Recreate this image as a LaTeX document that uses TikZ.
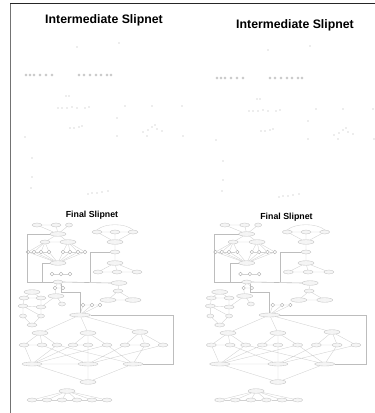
\documentclass[tikz,border=0pt]{standalone}
\usepackage{fontspec}
\setmainfont{Liberation Sans}
\usetikzlibrary{shapes.geometric}
\tikzset{
 ttl/.style={font=\bfseries\fontsize{12.3}{14}\selectfont, inner sep=0},
 fttl/.style={font=\bfseries\fontsize{8.8}{10}\selectfont, inner sep=0},
 ov/.style={ellipse, draw=black!24, line width=0.35pt, fill=black!4, minimum width=10pt, minimum height=4pt, inner sep=0},
 wov/.style={ov, minimum width=16pt, minimum height=4.5pt},
 sov/.style={ov, minimum width=7pt},
 cr/.style={circle, draw=black!35, line width=0.35pt, fill=white, minimum size=3.6pt, inner sep=0},
 ln/.style={draw=black!18, line width=0.35pt},
 bk/.style={draw=black!26, line width=0.6pt},
 mk/.style={draw=black!30, line width=0.3pt},
 dt/.style={fill=black!30},
}
\newcommand\internet{%
 \foreach \x in {26,30,34,40,46,52,79,84,90,96,101,107,111} \draw[mk] (\x,75) circle (1.1);
 \foreach \x/\y in {77/47,119/43,66/96,69/96,58/108,62/108,67/108,72/107,77/108,85/108,89/107,
   125/106,152/106,182/106,117/118,70/128,74/128,79/127,82/126,
   143/132,148/130,152/127,155/125,157/129,162/131,147/136,
   25/137,117/136,183/136,32/158,32/177,31/188,
   88/194,92/193,97/193,102/192,108/191}
   \fill[dt] (\x,\y) circle (0.55);
}
\newcommand\finalnet{%
 \node[ov] (t1) at (37,225) {};
 \node[ov] (t2) at (56,225) {};
 \node[sov] (t3) at (69,225) {};
 \node[wov] (lc) at (58,234) {};
 \node[ov] (a1) at (45,242) {};
 \node[wov] (a2) at (68,242) {};
 \foreach \i/\x in {1/28,2/34,3/41,4/49,5/63,6/70,7/78,8/85} \node[cr] (g\i) at (\x,252) {};
 \node[wov] (dc) at (58,263) {};
 \foreach \i/\x in {1/52,2/61,3/70} \node[cr] (h\i) at (\x,274) {};
 \node[ov] (len) at (58,282) {};
 \node[cr] (k1) at (55,288) {};
 \node[cr] (k2) at (63,288) {};
 \node[ov] (c1) at (97,232) {};
 \node[ov] (c2) at (115,232) {};
 \node[ov] (c3) at (133,232) {};
 \node[wov] (m1) at (115,242) {};
 \node[ov] (m2) at (115,252) {};
 \node[wov] (m3) at (115,263) {};
 \node[ov] (b1) at (98,272) {};
 \node[ov] (b2) at (117,272) {};
 \node[ov] (b3) at (137,272) {};
 \node[wov] (r1) at (119,283) {};
 \node[ov] (r2) at (118,291) {};
 \node[wov] (s1) at (108,300) {};
 \node[wov] (s2) at (133,300) {};
 \node[wov] (d0) at (32,292) {};
 \node[ov] (d1) at (24,298) {};
 \node[ov] (d2) at (41,298) {};
 \node[ov] (d3) at (23,306) {};
 \node[ov] (d4) at (41,307) {};
 \node[sov] (d5) at (23,316) {};
 \node[sov] (d6) at (41,316) {};
 \node[ov] (d7) at (32,325) {};
 \node[wov] (e1) at (56,296) {};
 \node[sov] (e2) at (62,304) {};
 \foreach \i/\x in {1/83,2/92,3/100} \node[cr] (f\i) at (\x,305) {};
 \node[ov, minimum width=21pt] (obj) at (80,315) {};
 \node[wov] (p1) at (40,333) {};
 \node[wov] (p2) at (88,333) {};
 \node[wov] (p3) at (140,332) {};
 \foreach \i/\x in {1/24,2/42,3/57,4/73,5/88,6/107,7/125,8/145,9/163} \node[ov] (q\i) at (\x,345) {};
 \node[ov, minimum width=20pt] (y1) at (32,364) {};
 \node[ov, minimum width=20pt] (y2) at (88,364) {};
 \node[ov, minimum width=20pt] (y3) at (133,364) {};
 \node[wov] (u) at (88,382) {};
 \node[wov] (v) at (67,391) {};
 \foreach \i/\x in {1/32,2/47,3/62,4/77,5/92,6/107} \node[ov] (w\i) at (\x,400) {};
 % edges
 \draw[ln] (t1) -- (t2) (t1) -- (lc) (t2) -- (lc) (t3) -- (lc) (lc) -- (a1) (lc) -- (a2) (a1) -- (a2);
 \foreach \i in {1,2,3,4} \draw[ln] (a1) -- (g\i) (g\i) -- (dc);
 \foreach \i in {5,6,7,8} \draw[ln] (a2) -- (g\i) (g\i) -- (dc);
 \draw[ln] (g1) -- (g2) -- (g3) -- (g4) (g5) -- (g6) -- (g7) -- (g8);
 \draw[ln] (h1) -- (h2) -- (h3);
 \draw[ln] (len) -- (k1) (len) -- (k2) (k1) -- (k2);
 \coordinate (bl1) at (27,234); \coordinate (bl2) at (27,282);
 \draw[bk] (lc.west) -- (bl1) -- (bl2) -- (len.west);
 \draw[bk] (len.east) -- (r1.west);
 \coordinate (bm1) at (90,252); \coordinate (bm2) at (90,282);
 \draw[bk] (m2.west) -- (bm1) -- (bm2);
 \coordinate (bd1) at (42,263); \coordinate (bd2) at (42,282);
 \draw[bk] (dc.west) -- (bd1) -- (bd2);
 \coordinate (bo1) at (80,292);
 \draw[bk] (len.south east) |- (bo1) -- (obj.north);
 \draw[ln] (c1) -- (c2) -- (c3) (c1) -- (m1) (c2) -- (m1) (c3) -- (m1) (m1) -- (m2) -- (m3);
 \draw[ln] (c1.north) .. controls (105,223) and (125,223) .. (c3.north);
 \draw[ln] (m3) -- (b1) (m3) -- (b2) (m3) -- (b3) (b1) -- (b2) -- (b3);
 \draw[ln] (r1) -- (r2) (r2) -- (s1) (r2) -- (s2) (s1) -- (s2);
 \draw[ln] (d0) -- (d1) (d0) -- (d2) (d1) -- (d2) (d1) -- (d3) (d2) -- (d4) (d3) -- (d4)
   (d3) -- (d5) (d4) -- (d6) (d3) -- (d6) (d5) -- (d7) (d6) -- (d7);
 \draw[ln] (e1) -- (d4) (e1) -- (e2) (e1) -- (k1);
 \draw[ln] (f1) -- (f2) -- (f3) (f1) -- (obj) (f2) -- (obj) (f3) -- (obj);
 \draw[ln] (obj) -- (p1) (obj) -- (p2) (obj) -- (p3);
 \coordinate (br1) at (173,315); \coordinate (br2) at (173,364);
 \draw[bk] (obj.east) -- (br1) -- (br2) -- (y3.east);
 \draw[ln] (p1) -- (q1) (p1) -- (q2) (p1) -- (q3) (p2) -- (q4) (p2) -- (q5) (p2) -- (q6)
   (p3) -- (q7) (p3) -- (q8) (p3) -- (q9) (q1) -- (q2) (q4) -- (q5) (q7) -- (q8);
 \draw[ln] (q1) -- (y1) (q2) -- (y2) (q3) -- (y1) (q3) -- (y3) (q4) -- (y1) (q5) -- (y2)
   (q6) -- (y3) (q6) -- (y1) (q7) -- (y2) (q8) -- (y3) (q9) -- (y2);
 \draw[ln] (y1) -- (y2) (y1) -- (u) (y2) -- (u) (y3) -- (u);
 \foreach \i in {1,...,6} \draw[ln] (v) -- (w\i);
 \draw[ln] (w1) -- (w2) -- (w3) -- (w4) -- (w5) -- (w6);
}
\begin{document}
\begin{tikzpicture}[x=1pt,y=-1pt]
\useasboundingbox (0,0) rectangle (375,413);
\fill[white] (0,0) rectangle (375,413);
\draw[black!55, line width=1.4pt] (10.5,3) -- (10.5,413);
\draw[black!85, line width=0.9pt] (10,3.5) -- (375,3.5);
\node[ttl] (it1) at (104,20) {Intermediate Slipnet};
\node[ttl] (it2) at (295,25) {Intermediate Slipnet};
\begin{scope}
 \internet
\end{scope}
\begin{scope}[shift={(191,3)}]
 \internet
\end{scope}
\node[fttl] (ft1) at (92,215) {Final Slipnet};
\node[fttl] (ft2) at (286.5,217) {Final Slipnet};
\begin{scope}[name prefix=L-]
 \finalnet
\end{scope}
\begin{scope}[name prefix=R-, xshift=186.4pt, xscale=1.04]
 \finalnet
\end{scope}
\end{tikzpicture}
\end{document}
